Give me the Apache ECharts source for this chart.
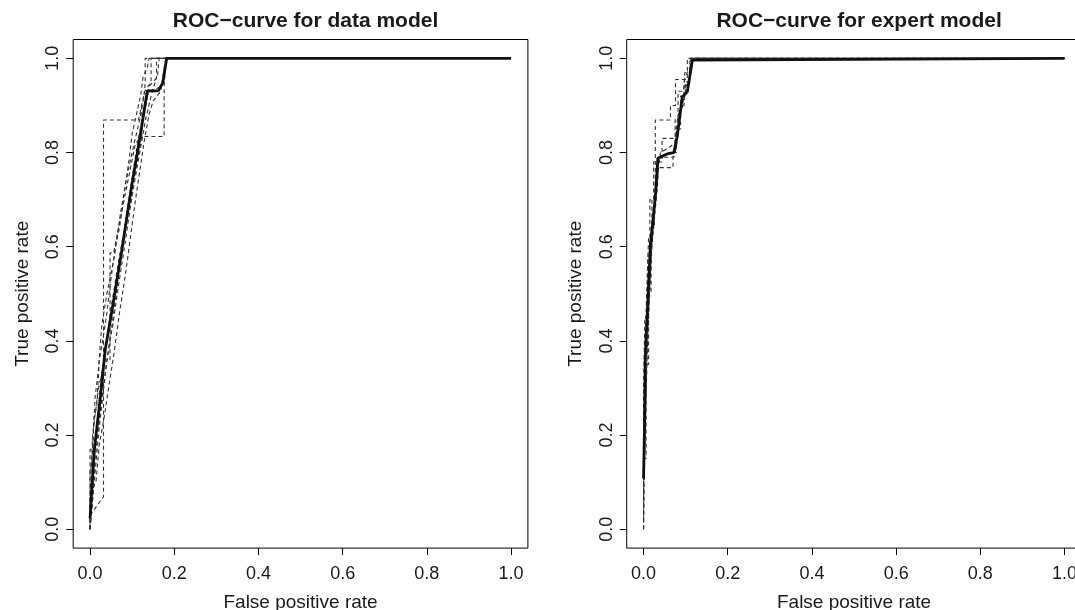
<!DOCTYPE html>
<html>
<head>
<meta charset="utf-8">
<script src="https://cdn.jsdelivr.net/npm/echarts@6/dist/echarts.min.js"></script>
<style>
html,body{margin:0;padding:0;background:#fff;}
#chart{width:1075px;height:610px;}
</style>
</head>
<body>
<div id="chart"></div>
<script>
// ---- Data ----
const titles = ["ROC\u2212curve for data model", "ROC\u2212curve for expert model"];
const xAxisTitle = "False positive rate";
const yAxisTitle = "True positive rate";
const tickValues = [0, 0.2, 0.4, 0.6, 0.8, 1.0];

// data model: averaged curve (solid) and individual runs (dashed)
const dataMean = [[0,0.023],[0.010,0.168],[0.024,0.275],[0.036,0.381],[0.055,0.48],[0.075,0.59],[0.099,0.73],[0.119,0.834],[0.136,0.931],[0.162,0.931],[0.173,0.948],[0.182,1.0],[1,1]];
const dataRun1 = [[0,0],[0,0.03],[0.032,0.069],[0.032,0.869],[0.115,0.869],[0.13,0.93],[0.145,0.95],[0.145,1],[0.158,1],[1,1]];
const dataRun2 = [[0,0],[0.005,0.05],[0.012,0.15],[0.024,0.25],[0.036,0.33],[0.05,0.42],[0.065,0.52],[0.082,0.63],[0.1,0.72],[0.112,0.78],[0.123,0.834],[0.176,0.834],[0.176,0.94],[0.18,0.94],[0.18,1],[1,1]];
const dataRun3 = [[0,0],[0,0.06],[0.004,0.06],[0.006,0.2],[0.02,0.3],[0.036,0.36],[0.0475,0.36],[0.0475,0.587],[0.056,0.587],[0.07,0.65],[0.09,0.74],[0.108,0.82],[0.123,0.834],[0.123,0.9],[0.133,0.9],[0.14,0.94],[0.16,0.96],[0.164,1],[1,1]];
const dataRun4 = [[0,0],[0,0.17],[0.006,0.17],[0.012,0.28],[0.02,0.34],[0.028,0.434],[0.04,0.5],[0.058,0.58],[0.072,0.67],[0.09,0.76],[0.105,0.82],[0.118,0.87],[0.128,0.92],[0.131,0.947],[0.131,1],[1,1]];
const dataRun5 = [[0,0],[0.004,0.04],[0.012,0.12],[0.02,0.2],[0.03,0.28],[0.04,0.36],[0.055,0.44],[0.068,0.52],[0.082,0.6],[0.095,0.68],[0.108,0.75],[0.12,0.81],[0.132,0.87],[0.145,0.92],[0.158,0.96],[0.158,1],[1,1]];
const dataRun6 = [[0,0.02],[0.006,0.1],[0.016,0.22],[0.026,0.32],[0.04,0.4],[0.05,0.47],[0.066,0.56],[0.08,0.63],[0.094,0.71],[0.104,0.77],[0.115,0.83],[0.13,0.9],[0.14,0.93],[0.17,0.94],[0.175,0.97],[0.182,1],[1,1]];
const dataRun7 = [[0,0],[0.002,0.08],[0.014,0.1],[0.022,0.18],[0.034,0.24],[0.044,0.3],[0.058,0.38],[0.07,0.46],[0.084,0.54],[0.096,0.62],[0.108,0.7],[0.118,0.76],[0.128,0.82],[0.14,0.88],[0.15,0.91],[0.168,0.93],[0.176,0.98],[0.18,1],[1,1]];
const dataRun8 = [[0,0.01],[0,0.12],[0.004,0.14],[0.01,0.24],[0.016,0.26],[0.022,0.36],[0.03,0.4],[0.04,0.46],[0.048,0.52],[0.06,0.6],[0.07,0.64],[0.082,0.72],[0.092,0.78],[0.1,0.84],[0.11,0.88],[0.12,0.92],[0.126,0.96],[0.136,0.98],[0.14,1],[1,1]];

// expert model
const expertMean = [[0,0.108],[0.002,0.204],[0.004,0.36],[0.016,0.6],[0.028,0.706],[0.034,0.788],[0.056,0.797],[0.072,0.80],[0.08,0.834],[0.092,0.918],[0.104,0.929],[0.116,0.996],[0.12,1],[1,1]];
const expertRun1 = [[0,0],[0,0.1],[0.002,0.1],[0.002,0.25],[0.004,0.25],[0.004,0.4],[0.008,0.4],[0.008,0.52],[0.012,0.52],[0.012,0.62],[0.02,0.62],[0.02,0.7],[0.028,0.7],[0.028,0.869],[0.064,0.869],[0.064,0.9],[0.076,0.9],[0.076,0.955],[0.104,0.955],[0.104,1],[1,1]];
const expertRun2 = [[0,0],[0,0.15],[0.006,0.15],[0.006,0.35],[0.012,0.35],[0.012,0.5],[0.018,0.5],[0.018,0.64],[0.026,0.64],[0.026,0.72],[0.032,0.72],[0.032,0.768],[0.07,0.768],[0.07,0.8],[0.078,0.8],[0.078,0.85],[0.088,0.85],[0.088,0.92],[0.1,0.92],[0.1,0.95],[0.11,0.95],[0.11,1],[1,1]];
const expertRun3 = [[0,0.05],[0,0.3],[0.003,0.3],[0.003,0.45],[0.01,0.45],[0.01,0.58],[0.015,0.58],[0.015,0.7],[0.024,0.7],[0.024,0.78],[0.044,0.78],[0.044,0.83],[0.075,0.83],[0.075,0.87],[0.082,0.87],[0.082,0.93],[0.095,0.93],[0.098,0.97],[0.112,0.97],[0.112,1],[1,1]];
const expertRun4 = [[0,0],[0.002,0.12],[0.004,0.2],[0.008,0.35],[0.012,0.45],[0.02,0.6],[0.026,0.66],[0.034,0.74],[0.036,0.79],[0.072,0.79],[0.078,0.81],[0.084,0.86],[0.09,0.9],[0.096,0.9],[0.1,0.94],[0.108,0.95],[0.116,0.99],[0.12,1],[1,1]];
const expertRun5 = [[0,0.02],[0.001,0.18],[0.006,0.3],[0.01,0.42],[0.016,0.54],[0.022,0.64],[0.03,0.72],[0.04,0.8],[0.06,0.81],[0.074,0.82],[0.082,0.88],[0.094,0.9],[0.098,0.96],[0.11,0.98],[0.114,1],[1,1]];

const dataRuns = [dataRun1, dataRun2, dataRun3, dataRun4, dataRun5, dataRun6, dataRun7, dataRun8];
const expertRuns = [expertRun1, expertRun2, expertRun3, expertRun4, expertRun5];

// ---- Chart ----
const FONT = 'Liberation Sans, Arial, Helvetica, sans-serif';
const TXT = '#1a1a1a';
const chart = echarts.init(document.getElementById('chart'), null, {renderer: 'canvas'});

const boxes = [
  {left: 73.2, top: 39.5, width: 454.7, height: 508.6},
  {left: 626.7, top: 39.5, width: 454.7, height: 508.6}
];

function xAx(i) {
  return {
    gridIndex: i, type: 'value', min: -0.04, max: 1.04, position: 'bottom',
    splitLine: {show: false},
    axisLine: {show: false, onZero: false},
    axisTick: {show: true, inside: false, length: 7, lineStyle: {color: '#000', width: 1}, customValues: tickValues},
    axisLabel: {show: true, margin: 17, fontSize: 18, fontFamily: FONT, color: TXT, customValues: tickValues,
      formatter: v => v.toFixed(1)},
    name: xAxisTitle, nameLocation: 'middle', nameGap: 45,
    nameTextStyle: {fontSize: 19, fontFamily: FONT, color: TXT}
  };
}
function yAx(i) {
  return {
    gridIndex: i, type: 'value', min: -0.04, max: 1.04, position: 'left',
    splitLine: {show: false},
    axisLine: {show: false, onZero: false},
    axisTick: {show: true, inside: false, length: 7, lineStyle: {color: '#000', width: 1}, customValues: tickValues},
    axisLabel: {show: true, margin: 11, rotate: 90, fontSize: 18, fontFamily: FONT, color: TXT, customValues: tickValues,
      formatter: v => v.toFixed(1)},
    name: yAxisTitle, nameLocation: 'middle', nameGap: 41, nameRotate: 90,
    nameTextStyle: {fontSize: 19, fontFamily: FONT, color: TXT}
  };
}

const series = [];
function addRuns(runs, gi) {
  runs.forEach(r => series.push({
    type: 'line', xAxisIndex: gi, yAxisIndex: gi, data: r, symbol: 'none', silent: true,
    lineStyle: {color: '#333', width: 1.1, type: [4, 3]}
  }));
}
addRuns(dataRuns, 0);
addRuns(expertRuns, 1);
series.push({type: 'line', xAxisIndex: 0, yAxisIndex: 0, data: dataMean, symbol: 'none', silent: true,
  lineStyle: {color: '#111', width: 2.8}});
series.push({type: 'line', xAxisIndex: 1, yAxisIndex: 1, data: expertMean, symbol: 'none', silent: true,
  lineStyle: {color: '#111', width: 2.8}});

chart.setOption({
  animation: false,
  backgroundColor: '#fff',
  title: titles.map((t, i) => ({
    text: t, left: boxes[i].left + boxes[i].width / 2, top: 6, textAlign: 'center',
    textStyle: {fontSize: 21, fontWeight: 'bold', fontFamily: FONT, color: TXT}
  })),
  grid: boxes.map(b => Object.assign({show: true, borderColor: '#000', borderWidth: 1, backgroundColor: 'transparent',
    containLabel: false, outerBoundsMode: 'none'}, b)),
  xAxis: [xAx(0), xAx(1)],
  yAxis: [yAx(0), yAx(1)],
  series: series
});
</script>
</body>
</html>
